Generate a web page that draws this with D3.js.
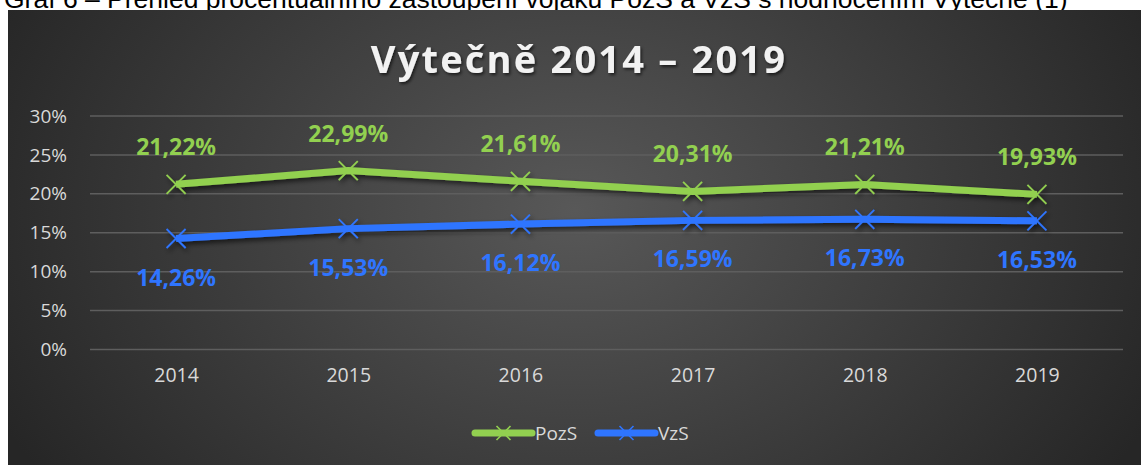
<!DOCTYPE html>
<html lang="cs">
<head>
  <meta charset="UTF-8">
  <script src="https://d3js.org/d3.v7.min.js"></script>
  <title>Výtečně 2014 – 2019</title>
  <style>
    html, body { margin: 0; padding: 0; background: #fff; overflow: hidden; }
  </style>
</head>
<body>
  <script>
    const years = ["2014", "2015", "2016", "2017", "2018", "2019"]
    const pozS = [21.22, 22.99, 21.61, 20.31, 21.21, 19.93]
    const vzS = [14.26, 15.53, 16.12, 16.59, 16.73, 16.53]
    const yTicks = [0, 5, 10, 15, 20, 25, 30]
    const seriesNames = ["PozS", "VzS"]

    const width = 1141, height = 465
    const green = "#92d050", blue = "#2f75ff"
    const font = "'Open Sans', 'Noto Sans', sans-serif"

    const svg = d3.select("body").append("svg")
        .attr("width", width)
        .attr("height", height)

    const defs = svg.append("defs")
    const grad = defs.append("radialGradient")
        .attr("id", "bg")
        .attr("gradientUnits", "userSpaceOnUse")
        .attr("cx", 575).attr("cy", 210).attr("r", 640)
        .attr("gradientTransform", "translate(575,210) scale(1,0.75) translate(-575,-210)")
    grad.append("stop").attr("offset", "0%").attr("stop-color", "#585858")
    grad.append("stop").attr("offset", "100%").attr("stop-color", "#262626")

    const shadow = defs.append("filter").attr("id", "shadow")
        .attr("x", "-20%").attr("y", "-50%").attr("width", "140%").attr("height", "200%")
    shadow.append("feDropShadow")
        .attr("dx", 2).attr("dy", 3).attr("stdDeviation", 2.5)
        .attr("flood-color", "#000").attr("flood-opacity", 0.6)

    const tshadow = defs.append("filter").attr("id", "tshadow")
    tshadow.append("feDropShadow")
        .attr("dx", 1.5).attr("dy", 2).attr("stdDeviation", 1.5)
        .attr("flood-color", "#000").attr("flood-opacity", 0.6)

    // caption of the figure, cut by the top edge like in the source
    svg.append("text")
        .attr("x", 4).attr("y", 8)
        .attr("font-family", "'Liberation Sans', Arial, sans-serif")
        .attr("font-size", 26.5)
        .attr("fill", "#000")
        .text("Graf 6 – Přehled procentuálního zastoupení vojáků PozS a VzS s hodnocením Výtečné (1)")

    svg.append("rect")
        .attr("x", 8).attr("y", 10)
        .attr("width", width - 8).attr("height", height - 10)
        .attr("fill", "url(#bg)")

    const x = d3.scalePoint()
        .domain(years)
        .range([90, 1123])
        .padding(0.5)

    const y = d3.scaleLinear()
        .domain([0, 30])
        .range([349.5, 116])

    // gridlines
    svg.append("g")
        .selectAll("line")
        .data(yTicks)
        .join("line")
        .attr("x1", 90).attr("x2", 1123)
        .attr("y1", d => y(d)).attr("y2", d => y(d))
        .attr("stroke", "#5e5e5e")
        .attr("stroke-width", 1.5)

    // y axis
    const yAxis = svg.append("g")
        .attr("transform", "translate(67,0)")
        .call(d3.axisLeft(y).tickValues(yTicks).tickSize(0).tickPadding(0).tickFormat(d => d + "%"))
    yAxis.select(".domain").remove()
    yAxis.selectAll("text")
        .attr("font-family", font)
        .attr("font-size", 19)
        .attr("fill", "#d9d9d9")

    // x axis
    const xAxis = svg.append("g")
        .attr("transform", "translate(0,368)")
        .call(d3.axisBottom(x).tickSize(0).tickPadding(0))
    xAxis.select(".domain").remove()
    xAxis.selectAll("text")
        .attr("font-family", font)
        .attr("font-size", 19.5)
        .attr("fill", "#d9d9d9")

    // title
    svg.append("text")
        .attr("x", 579).attr("y", 73)
        .attr("text-anchor", "middle")
        .attr("font-family", font)
        .attr("font-weight", "bold")
        .attr("font-size", 38)
        .attr("letter-spacing", 2.2)
        .attr("fill", "#f2f2f2")
        .attr("filter", "url(#tshadow)")
        .text("Výtečně 2014 – 2019")

    const line = d3.line()
        .x((d, i) => x(years[i]))
        .y(d => y(d))

    const crossPath = s => `M${-s},${-s}L${s},${s}M${-s},${s}L${s},${-s}`

    const series = [
      { name: seriesNames[0], values: pozS, color: green, dy: -29 },
      { name: seriesNames[1], values: vzS, color: blue, dy: 47 }
    ]

    series.forEach(s => {
      const g = svg.append("g").attr("filter", "url(#shadow)")
      g.append("path")
          .attr("d", line(s.values))
          .attr("fill", "none")
          .attr("stroke", s.color)
          .attr("stroke-width", 7)
          .attr("stroke-linejoin", "round")
      g.selectAll(".m")
          .data(s.values)
          .join("path")
          .attr("transform", (d, i) => `translate(${x(years[i])},${y(d)})`)
          .attr("d", crossPath(9.5))
          .attr("stroke", s.color)
          .attr("stroke-width", 1.8)
          .attr("fill", "none")
    })

    series.forEach(s => {
      svg.append("g")
          .selectAll("text")
          .data(s.values)
          .join("text")
          .attr("x", (d, i) => x(years[i]))
          .attr("y", d => y(d) + s.dy)
          .attr("text-anchor", "middle")
          .attr("font-family", font)
          .attr("font-weight", "bold")
          .attr("font-size", 23)
          .attr("fill", s.color)
          .text(d => d.toFixed(2).replace(".", ",") + "%")
    })

    // legend
    const legendX = [475, 598]
    const legend = svg.append("g")
    series.forEach((s, i) => {
      const lg = legend.append("g").attr("transform", `translate(${legendX[i]},433)`)
      lg.append("line")
          .attr("x1", 0).attr("x2", 57)
          .attr("stroke", s.color)
          .attr("stroke-width", 7)
          .attr("stroke-linecap", "round")
      lg.append("path")
          .attr("transform", "translate(28.5,0)")
          .attr("d", crossPath(7))
          .attr("stroke", s.color)
          .attr("stroke-width", 1.6)
      lg.append("text")
          .attr("x", 60).attr("y", 7)
          .attr("font-family", font)
          .attr("font-size", 19)
          .attr("fill", "#d9d9d9")
          .text(s.name)
    })
  </script>
</body>
</html>
